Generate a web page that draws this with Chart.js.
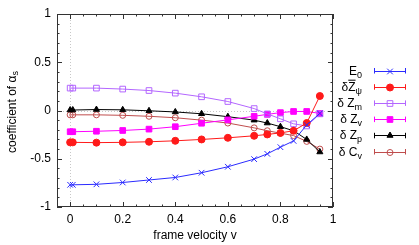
<!DOCTYPE html>
<html lang="en">
<head>
  <meta charset="UTF-8">
  <title>coefficient of alpha_s</title>
  <script src="https://cdn.jsdelivr.net/npm/chart.js"></script>
  <style>
    html, body { margin: 0; padding: 0; background: #fff; }
    #wrap { width: 419px; height: 245px; }
  </style>
</head>
<body>
  <div id="wrap"><canvas id="chart" width="419" height="245"></canvas></div>

  <script>
    // frame velocity values
    const velocity = [0, 0.01, 0.1, 0.2, 0.3, 0.4, 0.5, 0.6, 0.7, 0.75, 0.8, 0.85, 0.9, 0.95];

    // series
    const e0   = [-0.77, -0.77, -0.765, -0.746, -0.72, -0.694, -0.645, -0.583, -0.504, -0.449, -0.38, -0.315, -0.15, -0.03];
    const zPsi = [-0.33, -0.33, -0.333, -0.33, -0.324, -0.314, -0.30, -0.283, -0.262, -0.248, -0.232, -0.21, -0.13, 0.15];
    const zM   = [0.232, 0.232, 0.232, 0.222, 0.207, 0.18, 0.142, 0.093, 0.02, -0.035, -0.086, -0.138, -0.16, -0.035];
    const zV   = [-0.22, -0.22, -0.215, -0.207, -0.193, -0.168, -0.132, -0.097, -0.06, -0.04, -0.022, -0.01, -0.01, -0.03];
    const zP   = [0.005, 0.005, 0.01, 0.007, -0.003, -0.015, -0.034, -0.064, -0.1, -0.13, -0.168, -0.21, -0.3, -0.43];
    const cV   = [-0.045, -0.045, -0.045, -0.05, -0.06, -0.075, -0.1, -0.13, -0.18, -0.21, -0.235, -0.26, -0.32, -0.40];

    // legend names: text after "_" is a subscript
    const seriesNames = ['E_0', 'δZ_ψ', 'δ Z_m', 'δ Z_v', 'δ Z_p', 'δ C_v'];
    const overlined = [false, true, false, false, false, false];

    const xTicks = [0, 0.2, 0.4, 0.6, 0.8, 1];
    const yTicks = [-1, -0.5, 0, 0.5, 1];

    const FONT = "'Liberation Sans', Arial, sans-serif";

    function pts(ys) {
      return ys.map((y, i) => ({ x: velocity[i], y: y }));
    }

    function series(name, ys, color, style, radius, filled) {
      return {
        label: name,
        data: pts(ys),
        showLine: true,
        borderColor: color,
        borderWidth: 1,
        backgroundColor: filled ? color : 'rgba(0,0,0,0)',
        pointBorderColor: color,
        pointBackgroundColor: filled ? color : 'rgba(0,0,0,0)',
        pointStyle: style,
        pointRadius: radius,
        pointBorderWidth: 1,
        tension: 0
      };
    }

    const datasets = [
      series(seriesNames[0], e0, '#2b2bff', 'crossRot', 4, false),
      series(seriesNames[1], zPsi, '#ff1a1a', 'circle', 3.5, true),
      series(seriesNames[2], zM, '#b366ff', 'rect', 4, false),
      series(seriesNames[3], zV, '#ff00ff', 'rect', 4, true),
      series(seriesNames[4], zP, '#000000', 'triangle', 3.5, true),
      series(seriesNames[5], cV, '#bf4d4d', 'circle', 3, false)
    ];

    function drawRich(ctx, str, bar, xRight, y) {
      const parts = str.split('_');
      const main = parts[0], sub = parts[1] || '';
      ctx.font = '12px ' + FONT;
      const wMain = ctx.measureText(main).width;
      ctx.font = '9px ' + FONT;
      const wSub = ctx.measureText(sub).width;
      const x0 = xRight - wMain - wSub;
      ctx.textAlign = 'left';
      ctx.textBaseline = 'alphabetic';
      ctx.fillStyle = '#000';
      ctx.font = '12px ' + FONT;
      ctx.fillText(main, x0, y + 4);
      if (bar) {
        const wHead = ctx.measureText(main.slice(0, -1)).width;
        const wLast = ctx.measureText(main.slice(-1)).width;
        ctx.strokeStyle = '#000';
        ctx.lineWidth = 1;
        ctx.beginPath();
        ctx.moveTo(x0 + wHead, y - 6.5);
        ctx.lineTo(x0 + wHead + wLast, y - 6.5);
        ctx.stroke();
      }
      ctx.font = '9px ' + FONT;
      ctx.fillText(sub, x0 + wMain, y + 7);
    }

    const framePlugin = {
      id: 'frame',
      beforeDatasetsDraw(chart) {
        const { ctx, chartArea: a, scales } = chart;
        const x0 = scales.x.getPixelForValue(0);
        const y0 = scales.y.getPixelForValue(0);
        ctx.save();
        ctx.strokeStyle = '#c8c8c8';
        ctx.lineWidth = 1;
        ctx.setLineDash([1, 2]);
        ctx.beginPath();
        ctx.moveTo(Math.round(x0) + 0.5, a.top);
        ctx.lineTo(Math.round(x0) + 0.5, a.bottom);
        ctx.moveTo(a.left, Math.round(y0) + 0.5);
        ctx.lineTo(a.right, Math.round(y0) + 0.5);
        ctx.stroke();
        ctx.restore();
      },
      afterDatasetsDraw(chart) {
        const { ctx, chartArea: a, scales } = chart;
        ctx.save();
        ctx.strokeStyle = '#333';
        ctx.lineWidth = 1;
        ctx.strokeRect(Math.round(a.left) + 0.5, Math.round(a.top) + 0.5,
          Math.round(a.right - a.left) - 1, Math.round(a.bottom - a.top) - 1);
        ctx.beginPath();
        for (let k = -1; k <= 20; k++) {
          const v = k * 0.05;
          const px = Math.round(scales.x.getPixelForValue(v)) + 0.5;
          const len = (k % 4 === 0) ? 5 : 2.5;
          ctx.moveTo(px, a.bottom); ctx.lineTo(px, a.bottom - len);
          ctx.moveTo(px, a.top); ctx.lineTo(px, a.top + len);
        }
        for (let k = -10; k <= 10; k++) {
          const v = k * 0.1;
          const py = Math.round(scales.y.getPixelForValue(v)) + 0.5;
          const len = (k % 5 === 0) ? 5 : 2.5;
          ctx.moveTo(a.left, py); ctx.lineTo(a.left + len, py);
          ctx.moveTo(a.right, py); ctx.lineTo(a.right - len, py);
        }
        ctx.stroke();
        ctx.restore();
      },
      afterDraw(chart) {
        const { ctx, chartArea: a } = chart;
        ctx.save();
        // legend
        chart.data.datasets.forEach((ds, i) => {
          const y = 70.5 + 16.2 * i;
          drawRich(ctx, seriesNames[i], overlined[i], 362, y);
          ctx.strokeStyle = ds.borderColor;
          ctx.lineWidth = 1;
          ctx.beginPath();
          ctx.moveTo(374, Math.round(y) + 0.5); ctx.lineTo(406, Math.round(y) + 0.5);
          ctx.moveTo(374.5, y - 2.5); ctx.lineTo(374.5, y + 3);
          ctx.moveTo(405.5, y - 2.5); ctx.lineTo(405.5, y + 3);
          ctx.stroke();
          ctx.fillStyle = ds.pointBackgroundColor;
          ctx.strokeStyle = ds.pointBorderColor;
          Chart.helpers.drawPoint(ctx, {
            pointStyle: ds.pointStyle, radius: ds.pointRadius, rotation: 0, borderWidth: 1
          }, 390, Math.round(y) + 0.5);
        });
        // axis titles
        ctx.fillStyle = '#000';
        ctx.textBaseline = 'middle';
        ctx.textAlign = 'center';
        ctx.font = '12px ' + FONT;
        ctx.fillText('frame velocity v', (a.left + a.right) / 2, 236);
        ctx.translate(13, 112);
        ctx.rotate(-Math.PI / 2);
        const t = 'coefficient of α';
        const w1 = ctx.measureText(t).width;
        ctx.font = '9px ' + FONT;
        const w2 = ctx.measureText('s').width;
        ctx.textAlign = 'left';
        ctx.font = '12px ' + FONT;
        ctx.fillText(t, -(w1 + w2) / 2, 0);
        ctx.font = '9px ' + FONT;
        ctx.fillText('s', -(w1 + w2) / 2 + w1, 3);
        ctx.restore();
      }
    };

    const ctx = document.getElementById('chart').getContext('2d');
    const chart = new Chart(ctx, {
      type: 'scatter',
      data: { datasets: datasets },
      options: {
        responsive: false,
        animation: false,
        layout: { padding: { top: 14, right: 86, left: 0, bottom: 0 } },
        plugins: {
          legend: { display: false },
          tooltip: { enabled: false }
        },
        scales: {
          x: {
            type: 'linear',
            min: -0.05,
            max: 1,
            grid: { display: false, drawTicks: false },
            border: { display: false },
            afterBuildTicks: s => { s.ticks = xTicks.map(v => ({ value: v })); },
            afterFit: s => { s.height = 38; },
            ticks: {
              padding: 5,
              color: '#000',
              font: { family: FONT, size: 12 },
              callback: v => String(v)
            }
          },
          y: {
            type: 'linear',
            min: -1,
            max: 1,
            grid: { display: false, drawTicks: false },
            border: { display: false },
            afterBuildTicks: s => { s.ticks = yTicks.map(v => ({ value: v })); },
            afterFit: s => { s.width = 57; },
            ticks: {
              padding: 6,
              color: '#000',
              font: { family: FONT, size: 12 },
              callback: v => String(v)
            }
          }
        }
      },
      plugins: [framePlugin]
    });
  </script>
</body>
</html>
